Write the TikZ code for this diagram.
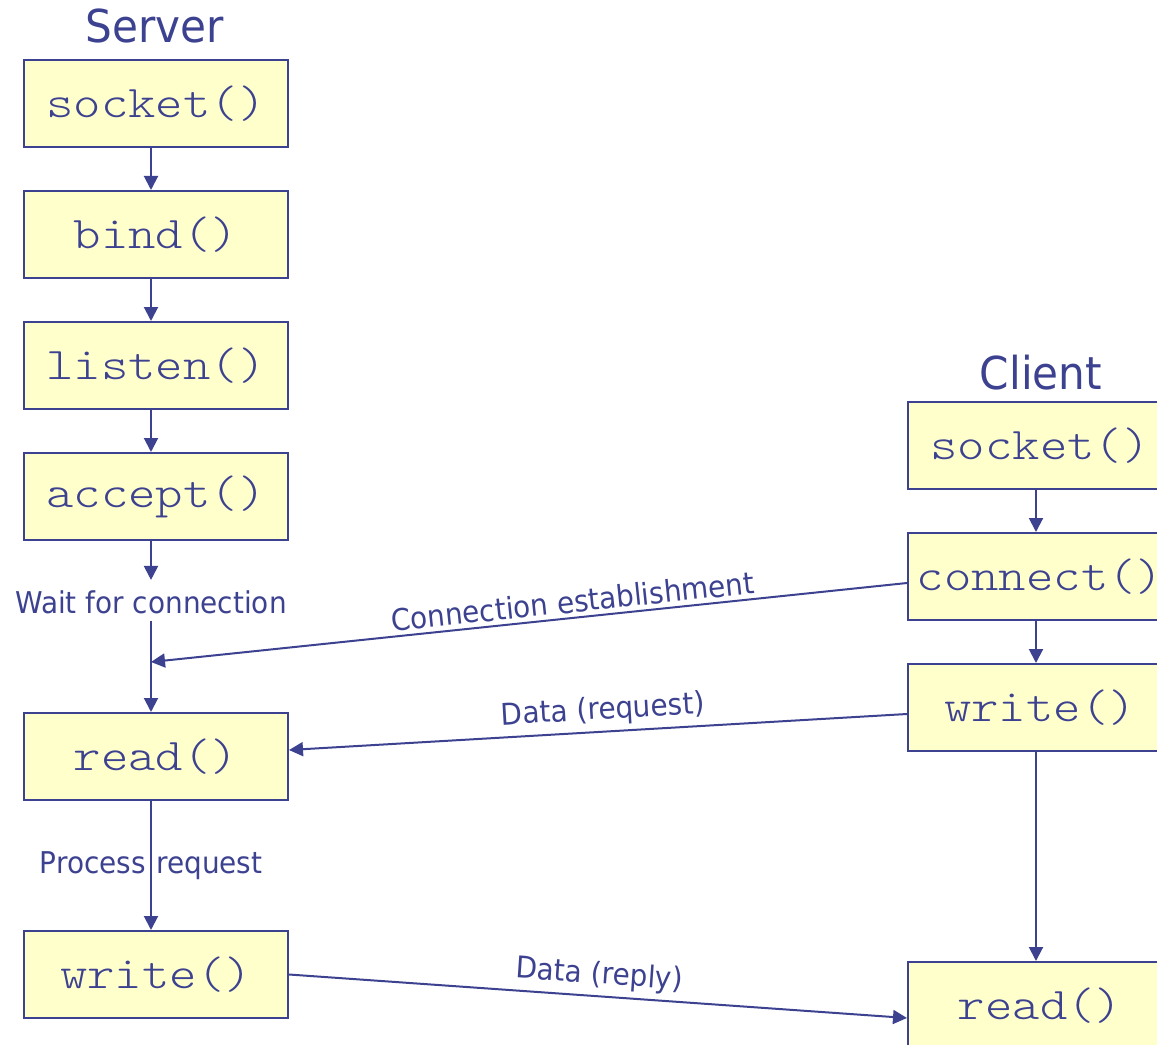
\documentclass[tikz,border=0pt]{standalone}
\usepackage{fontspec}
\setmainfont{DejaVu Sans}[FakeStretch=0.93]
\setmonofont{lmmonolt10-regular.otf}[FakeStretch=1.15]
\usetikzlibrary{arrows.meta,calc}
\definecolor{ink}{HTML}{3D4290}
\definecolor{paper}{HTML}{FFFFCC}

\begin{document}
\begin{tikzpicture}[x=0.75pt,y=-0.75pt,
  callbox/.style={draw=ink, fill=paper, line width=1.5pt, minimum width=198pt,
    minimum height=65.25pt, inner sep=0pt,
    font=\ttfamily\fontsize{34}{34}\selectfont, text=ink},
  flow/.style={draw=ink, line width=1.5pt, -{Triangle[length=10.5pt,width=10.5pt]}},
  heading/.style={text=ink, font=\fontsize{34}{34}\selectfont, anchor=base},
  note/.style={text=ink, font=\fontsize{22.5}{22.5}\selectfont, inner sep=0pt}]

% canvas, clipped at its edges
\path[use as bounding box, clip] (0,0) rectangle (1157,1045);

% column guides for the vertical connectors
\coordinate (scol) at (151,0);
\coordinate (ccol) at (1036,0);

% server side
\node[heading] (server) at (155,43) {Server};
\node[callbox] (ssock)   at (156,103.5) {socket()};
\node[callbox] (sbind)   at (156,234.5) {bind()};
\node[callbox] (slisten) at (156,365.5) {listen()};
\node[callbox] (saccept) at (156,496.5) {accept()};
\node[callbox] (sread)   at (156,756.5) {read()};
\node[callbox] (swrite)  at (156,974.5) {write()};

\node[note, anchor=base] (wait) at (151,613) {Wait for connection};
\node[note, anchor=base east] (proc) at (146,873) {Process};
\node[note, anchor=base west] (req)  at (156,873) {request};

% client side
\node[heading] (client) at (1041,389) {Client};
\node[callbox] (csock)  at (1040,445.5) {socket()};
\node[callbox] (cconn)  at (1040,576.5) {connect()};
\node[callbox] (cwrite) at (1040,707.5) {write()};
\node[callbox] (cread)  at (1040,1005.5) {read()};

% server flow
\draw[flow] (ssock.south -| scol) -- (sbind.north -| scol);
\draw[flow] (sbind.south -| scol) -- (slisten.north -| scol);
\draw[flow] (slisten.south -| scol) -- (saccept.north -| scol);
\coordinate (waittop) at ($(wait.north)+(0,-10)$);
\coordinate (waitbot) at ($(wait.south)+(0,7)$);
\draw[flow] (saccept.south -| scol) -- (waittop -| scol);
\draw[flow] (waitbot -| scol) -- (sread.north -| scol);
\draw[flow] (sread.south -| scol) -- (swrite.north -| scol);

% client flow
\draw[flow] (csock.south -| ccol) -- (cconn.north -| ccol);
\draw[flow] (cconn.south -| ccol) -- (cwrite.north -| ccol);
\draw[flow] (cwrite.south -| ccol) -- (cread.north -| ccol);

% messages between the two sides
\coordinate (meet) at (151,662);
\draw[flow] ($(cconn.west)+(0,6.5)$) -- node[note, sloped, above=3pt, pos=0.44] (lconn) {Connection establishment} (meet);
\draw[flow] ($(cwrite.west)+(0,6.5)$) -- node[note, sloped, above=4pt, pos=0.49] (lreq) {Data (request)} ($(sread.east)+(0,-6.5)$);
\draw[flow] ($(swrite.east)$) -- node[note, sloped, above=4pt, pos=0.5] (lrep) {Data (reply)} ($(cread.west)+(0,12.5)$);
\end{tikzpicture}
\end{document}
